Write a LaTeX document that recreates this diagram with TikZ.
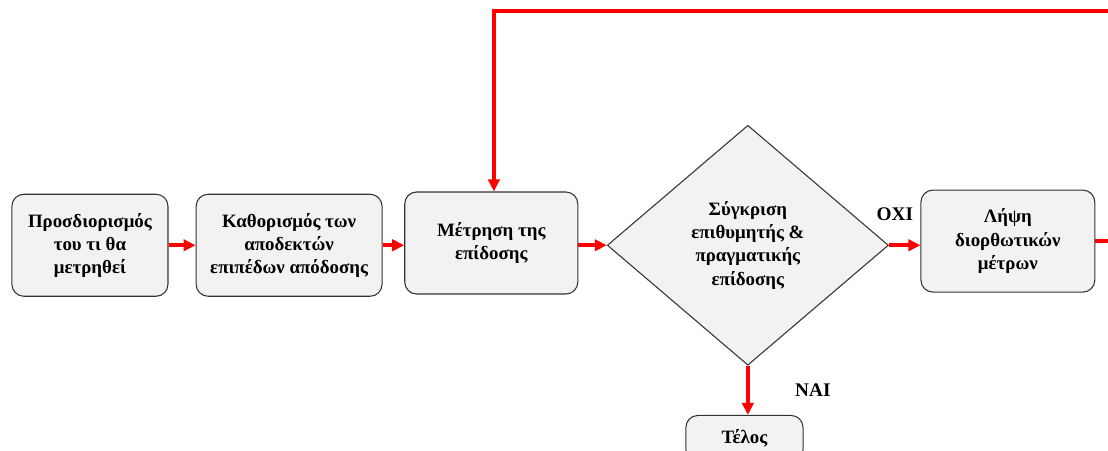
\documentclass[tikz,border=0pt]{standalone}
\usepackage{fontspec}
\setmainfont{Liberation Serif}
\usetikzlibrary{shapes.geometric,arrows.meta}

\tikzset{
  box/.style={draw=black!80, fill=black!5, rounded corners=9pt, line width=0.8pt,
    minimum height=2.7cm, align=center, font=\bfseries\fontsize{14.2}{17.5}\selectfont},
  decision/.style={diamond, draw=black!80, fill=black!5, line width=0.8pt, inner sep=0pt,
    minimum width=7.44cm, minimum height=6.35cm, align=center,
    font=\bfseries\fontsize{14.2}{17.5}\selectfont},
  flow/.style={red, line width=2.8pt, -{Triangle[length=9pt,width=8.5pt]}},
  answer/.style={font=\bfseries\fontsize{14.5}{17}\selectfont}
}

\begin{document}
\begin{tikzpicture}

\useasboundingbox (0,0) rectangle (29.32,11.91);

% Steps
\node[box, minimum width=4.13cm] (define) at (2.38,5.42) {Προσδιορισμός\\του τι θα\\μετρηθεί};
\node[box, minimum width=4.92cm] (levels) at (7.65,5.42) {Καθορισμός των\\αποδεκτών\\επιπέδων απόδοσης};
\node[box, minimum width=4.58cm] (measure) at (13.0,5.48) {Μέτρηση της\\επίδοσης};

% Comparison
\node[decision] (compare) at (19.79,5.42) {Σύγκριση\\επιθυμητής \&\\πραγματικής\\επίδοσης};

% Corrective action
\node[box, minimum width=4.60cm] (correct) at (26.67,5.53) {Λήψη\\διορθωτικών\\μέτρων};

% End
\node[box, minimum width=3.10cm, minimum height=1.22cm, anchor=north] (stop) at (19.70,0.93) {Τέλος};

% Flow
\draw[flow] (define.east) -- (levels.west);
\draw[flow] (levels.east) -- (measure.west |- levels.east);
\draw[flow] (measure.east |- compare.west) -- (compare.west);
\draw[flow] (compare.east) -- (compare.east -| correct.west);
\draw[flow] (compare.south) -- (compare.south |- stop.north);

% Feedback loop
\coordinate (loop) at (29.7,11.62);
\coordinate (drop) at (13.07,11.62);
\draw[flow] (correct.east) -| (loop) -- (drop) -- (drop |- measure.north);

% Answers
\node[answer] (no) at (23.68,6.24) {ΟΧΙ};
\node[answer] (yes) at (21.51,1.59) {ΝΑΙ};

\end{tikzpicture}
\end{document}
